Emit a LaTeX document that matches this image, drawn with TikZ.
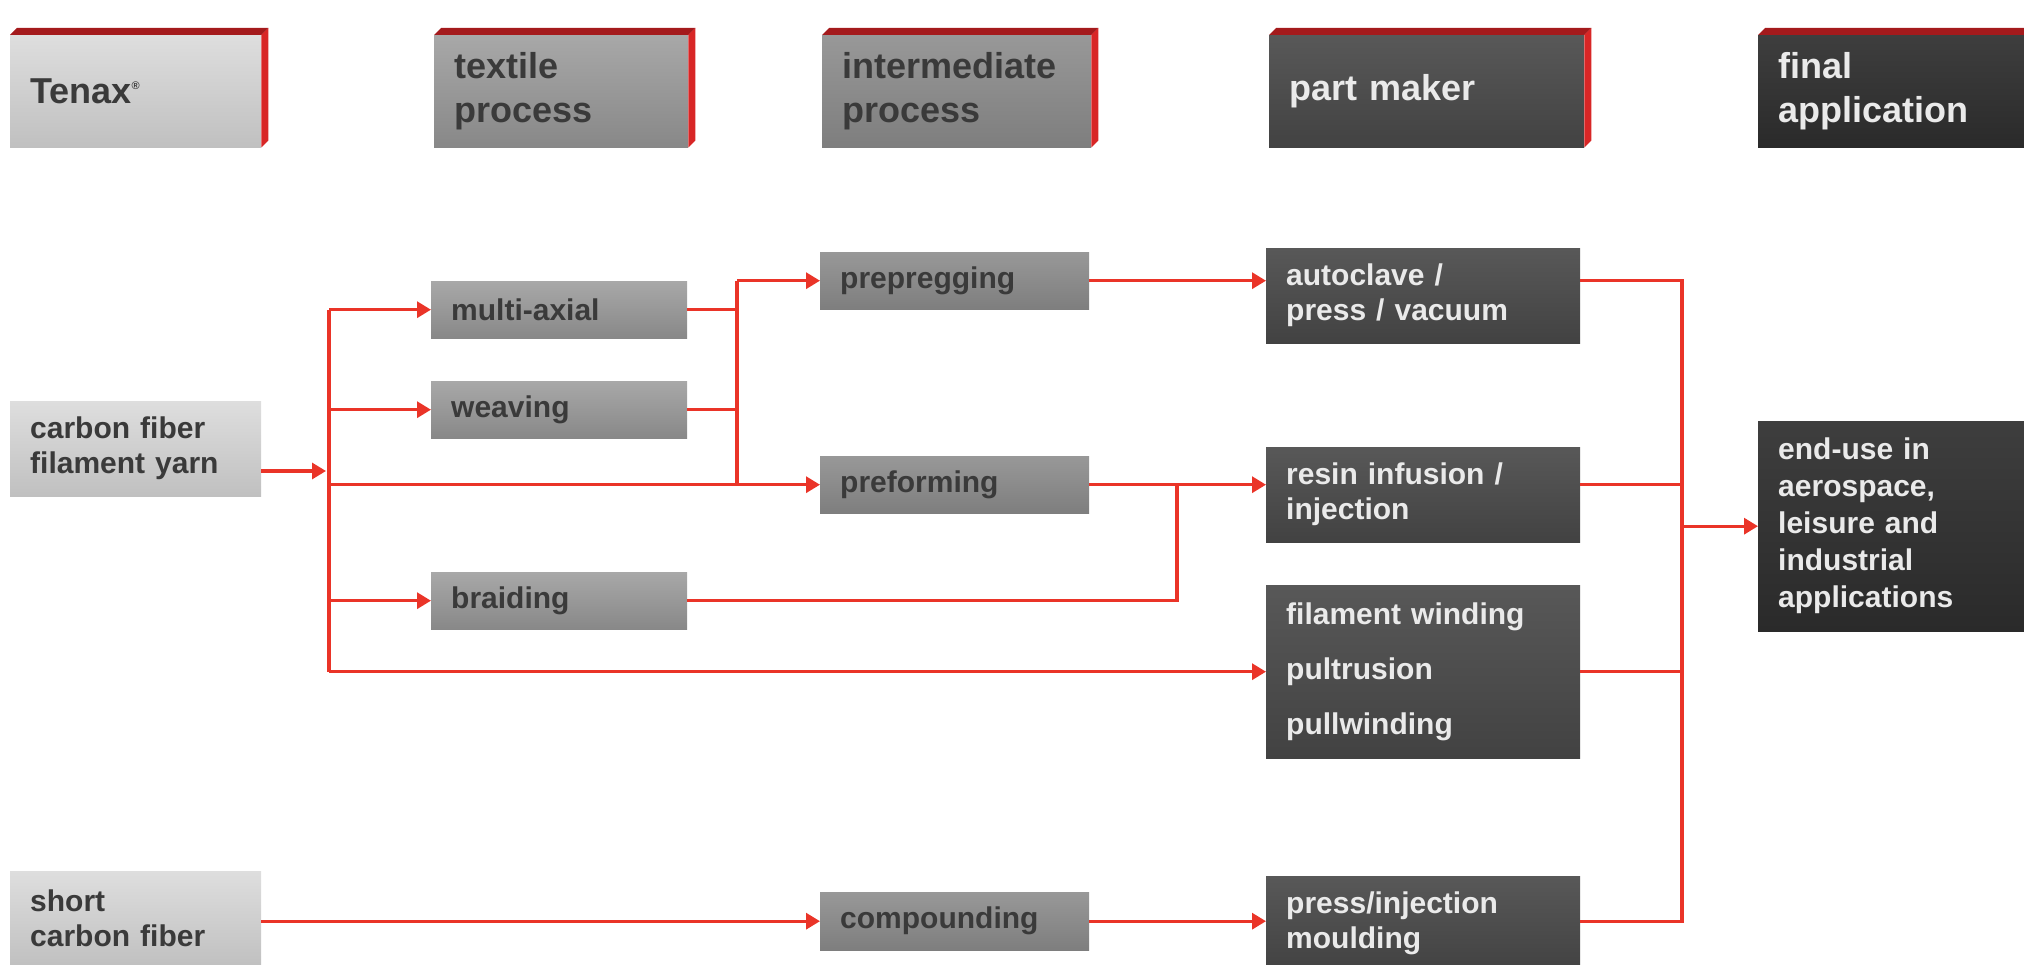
\documentclass[tikz,border=0pt]{standalone}
\usepackage{fontspec}
\setmainfont{Liberation Sans}
\usetikzlibrary{arrows.meta}

\definecolor{bandtop}{RGB}{164,26,28}
\definecolor{bandside}{RGB}{216,38,38}
\definecolor{linkred}{RGB}{234,52,40}
\definecolor{inkdark}{RGB}{58,58,58}
\definecolor{inklight}{RGB}{234,234,234}
\definecolor{rawtop}{RGB}{222,222,222}
\definecolor{rawbot}{RGB}{192,192,192}
\definecolor{textop}{RGB}{168,168,168}
\definecolor{texbot}{RGB}{136,136,136}
\definecolor{inttop}{RGB}{152,152,152}
\definecolor{intbot}{RGB}{126,126,126}
\definecolor{parttop}{RGB}{88,88,88}
\definecolor{partbot}{RGB}{66,66,66}
\definecolor{endtop}{RGB}{62,62,62}
\definecolor{endbot}{RGB}{42,42,42}

\begin{document}
\begin{tikzpicture}[x=1pt, y=-1pt,
  box/.style={rectangle, anchor=north west, inner xsep=20pt, inner ysep=0pt, align=left, font=\fontsize{30}{35}\selectfont\bfseries},
  header/.style={box, minimum height=112pt, font=\fontsize{36}{44}\selectfont\bfseries},
  raw/.style={top color=rawtop, bottom color=rawbot, text=inkdark},
  textile/.style={top color=textop, bottom color=texbot, text=inkdark},
  inter/.style={top color=inttop, bottom color=intbot, text=inkdark},
  part/.style={top color=parttop, bottom color=partbot, text=inklight},
  final/.style={top color=endtop, bottom color=endbot, text=inklight},
  link/.style={line width=3.2pt, draw=linkred},
  arrow/.style={link, -{Triangle[length=14pt, width=16pt]}}
]
\useasboundingbox (0,0) rectangle (2024,965);

% column headers
\node (tenaxhd) [header, raw, text width=211pt] at (10,35) {Tenax\raisebox{14pt}{\fontsize{11}{11}\selectfont ®}};
\node (textilehd) [header, textile, text width=214pt] at (434,35) {textile\\process};
\node (interhd) [header, inter, text width=229pt] at (822,35) {intermediate\\process};
\node (makerhd) [header, part, text width=275pt] at (1269,35) {part maker};
\node (finalhd) [header, final, text width=240pt] at (1758,35) {final\\application};

% red edges of the header blocks
\foreach \hd in {tenaxhd, textilehd, interhd, makerhd, finalhd} {
  \fill [bandtop] (\hd.north west) -- ([shift={(7,-7)}]\hd.north west) -- ([shift={(7,-7)}]\hd.north east) -- (\hd.north east) -- cycle;
  \fill [bandside] (\hd.north east) -- ([shift={(7,-7)}]\hd.north east) -- ([shift={(7,-7)}]\hd.south east) -- (\hd.south east) -- cycle;
}

% fibers
\node (carbon) [box, raw, text width=211pt, minimum height=95pt] at (10,401) {carbon fiber\\filament yarn};
\node (short) [box, raw, text width=211pt, minimum height=95pt] at (10,871) {short\\carbon fiber};

% textile process
\node (multi) [box, textile, text width=216pt, minimum height=57pt] at (431,281) {multi-axial};
\node (weave) [box, textile, text width=216pt, minimum height=57pt] at (431,381) {weaving};
\node (braid) [box, textile, text width=216pt, minimum height=57pt] at (431,572) {braiding};

% intermediate process
\node (prepreg) [box, inter, text width=229pt, minimum height=57pt] at (820,252) {prepregging};
\node (preform) [box, inter, text width=229pt, minimum height=57pt] at (820,456) {preforming};
\node (compound) [box, inter, text width=229pt, minimum height=58pt] at (820,892) {compounding};

% part maker
\node (auto) [box, part, text width=274pt, minimum height=95pt] at (1266,248) {autoclave /\\press / vacuum};
\node (resin) [box, part, text width=274pt, minimum height=95pt] at (1266,447) {resin infusion /\\injection};
\node (fil) [box, part, text width=274pt, minimum height=173pt] at (1266,585) {filament winding\\[20pt]pultrusion\\[20pt]pullwinding};
\node (press) [box, part, text width=274pt, minimum height=95pt] at (1266,876) {press/injection\\moulding};

% final application
\node (enduse) [box, final, text width=235pt, minimum height=210pt, font=\fontsize{30}{37}\selectfont\bfseries] at (1758,421) {end-use in\\aerospace,\\leisure and\\industrial\\applications};

% branch points
\coordinate (split) at (329,471);
\coordinate (mix) at (737,0);
\coordinate (weld) at (1177,0);
\coordinate (collect) at (1682,0);

\draw [arrow] (carbon.east |- split) -- ([xshift=-3pt]split);
\draw [link] (split |- multi) -- (split |- fil);
\draw [arrow] (split |- multi) -- (multi);
\draw [arrow] (split |- weave) -- (weave);
\draw [arrow] (split |- preform) -- (preform);
\draw [arrow] (split |- braid) -- (braid);
\draw [arrow] (split |- fil) -- (fil);

\draw [link] (multi) -- (mix |- multi);
\draw [link] (weave) -- (mix |- weave);
\draw [link] (mix |- prepreg) -- (mix |- preform);
\draw [arrow] (mix |- prepreg) -- (prepreg);
\draw [link] (braid) -| (weld |- preform);

\draw [arrow] (prepreg) -- (prepreg -| auto.west);
\draw [arrow] (preform) -- (preform -| resin.west);
\draw [arrow] (short.east |- compound) -- (compound);
\draw [arrow] (compound) -- (compound -| press.west);

\draw [link] (auto.east |- prepreg) -- (collect |- prepreg) -- (collect |- compound) -- (press.east |- compound);
\draw [link] (resin.east |- preform) -- (collect |- preform);
\draw [link] (fil) -- (collect |- fil);
\draw [arrow] (collect |- enduse) -- (enduse);

\end{tikzpicture}
\end{document}
